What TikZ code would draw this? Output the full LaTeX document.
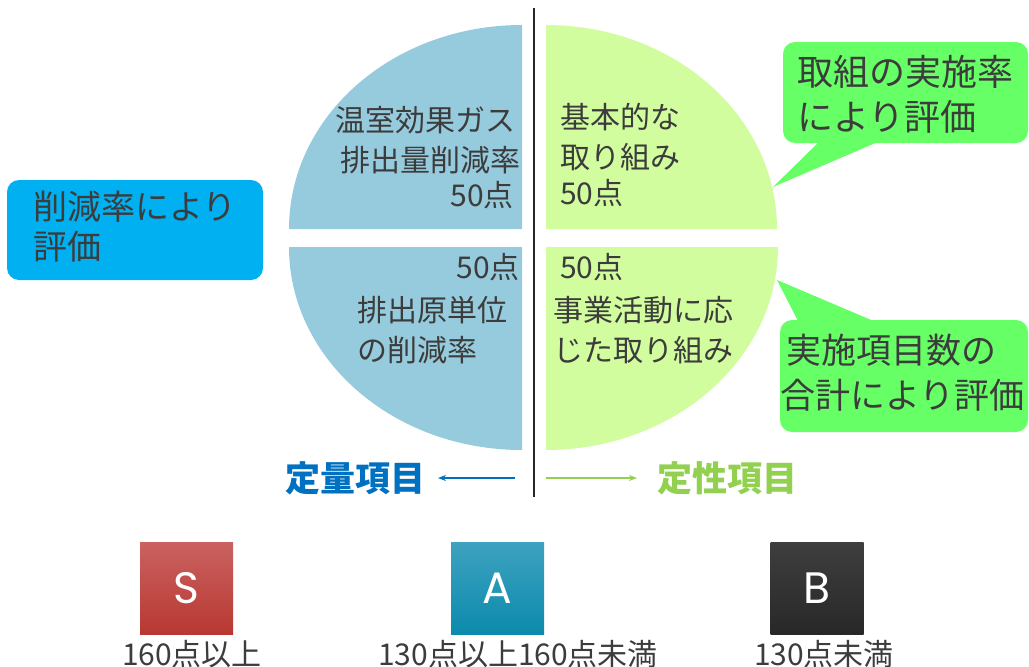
\documentclass[tikz,border=0pt]{standalone}
\usepackage{fontspec}
\newfontfamily\jp{Noto Sans CJK JP}
\newfontfamily\lat{Poppins}
\usetikzlibrary{arrows.meta}
\definecolor{pieblue}{RGB}{150,203,221}
\definecolor{piegreen}{RGB}{210,253,158}
\definecolor{boxblue}{RGB}{0,176,240}
\definecolor{callgreen}{RGB}{102,255,102}
\definecolor{txtgray}{RGB}{60,60,60}
\definecolor{qblue}{RGB}{0,112,192}
\definecolor{qgreen}{RGB}{146,208,80}
\tikzset{
  txt/.style={inner sep=0, text=txtgray, font=\jp\fontsize{30}{36}\selectfont},
  bigtxt/.style={inner sep=0, text=txtgray, font=\jp\fontsize{36}{42}\selectfont},
  boxtxt/.style={inner sep=0, text=txtgray, font=\jp\fontsize{34}{40}\selectfont},
  cattxt/.style={inner sep=0, font=\jp\bfseries\fontsize{35}{40}\selectfont},
  ranktxt/.style={inner sep=0, text=txtgray, font=\jp\fontsize{30}{36}\selectfont},
  rankbox/.style={rectangle, inner sep=0, minimum width=93, minimum height=92, text=white, font=\lat\fontsize{44}{50}\selectfont},
  thinarrow/.style={line width=1.2pt, -{Stealth[length=8pt,width=6pt]}}
}
\begin{document}
\begin{tikzpicture}[x=1pt,y=-1pt]
\useasboundingbox (0,0) rectangle (1029,667);
% pie quarters
\fill[pieblue] (522,229) -- (289,229) .. controls (289,116) and (393,25) .. (522,25) -- cycle;
\fill[pieblue] (522,247) -- (289,247) .. controls (289,359) and (393,450) .. (522,450) -- cycle;
\fill[piegreen] (546,229) -- (777,229) .. controls (777,116) and (674,25) .. (546,25) -- cycle;
\fill[piegreen] (546,247) -- (778,247) .. controls (778,359) and (674,450) .. (546,450) -- cycle;
% divider
\coordinate (vtop) at (534,8);
\coordinate (vbot) at (534,497);
\draw[line width=2pt, black!85] (vtop) -- (vbot);
% quarter texts
\node[txt, anchor=east] (tl1) at (516,120) {温室効果ガス};
\node[txt, anchor=east] (tl2) at (521,160) {排出量削減率};
\node[txt, anchor=east] (tl3) at (514,195) {50点};
\node[txt, anchor=west] (tr1) at (560,117) {基本的な};
\node[txt, anchor=west] (tr2) at (560,157) {取り組み};
\node[txt, anchor=west] (tr3) at (560,193) {50点};
\node[txt, anchor=east] (bl1) at (520,267) {50点};
\node[txt, anchor=west] (bl2) at (357,310) {排出原単位};
\node[txt, anchor=west] (bl3) at (357,350) {の削減率};
\node[txt, anchor=west] (br1) at (560,267) {50点};
\node[txt, anchor=west] (br2) at (553,310) {事業活動に応};
\node[txt, anchor=west] (br3) at (553,350) {じた取り組み};
% left box
\node[fill=boxblue, rounded corners=12, minimum width=256, minimum height=100, inner sep=0] (lbox) at (135,230) {};
\node[boxtxt, anchor=west] (lb1) at (33,207) {削減率により};
\node[boxtxt, anchor=west] (lb2) at (33,247) {評価};
% top callout
\fill[callgreen] (823,138) -- (887,138) -- (773,187) -- cycle;
\node[fill=callgreen, rounded corners=12, minimum width=245, minimum height=101, inner sep=0] (cb1) at (905.5,92.5) {};
\node[bigtxt, anchor=west] (c11) at (797,72) {取組の実施率};
\node[bigtxt, anchor=west] (c12) at (797,117) {により評価};
% bottom callout
\fill[callgreen] (800,325) -- (883,325) -- (777,280) -- cycle;
\node[fill=callgreen, rounded corners=12, minimum width=248, minimum height=112, inner sep=0] (cb2) at (904,376) {};
\node[bigtxt, anchor=west, font=\jp\fontsize{35}{41}\selectfont] (c21) at (786,350) {実施項目数の};
\node[bigtxt, anchor=west, font=\jp\fontsize{35}{41}\selectfont] (c22) at (780,395) {合計により評価};
% category labels
\node[cattxt, text=qblue, anchor=east] (teiryo) at (426,478) {定量項目};
\node[cattxt, text=qgreen, anchor=west] (teisei) at (657,478) {定性項目};
\coordinate (qa) at (515,478);
\coordinate (ga) at (546,478);
\draw[thinarrow, qblue] (qa) -- (teiryo.east) [shorten >=12pt];
\draw[thinarrow, qgreen] (ga) -- (teisei.west) [shorten >=20pt];
% ranks
\node[rankbox, top color={rgb,255:red,202;green,98;blue,96}, bottom color={rgb,255:red,184;green,56;blue,50}] (S) at (186.5,588) {S};
\node[rankbox, top color={rgb,255:red,62;green,162;blue,192}, bottom color={rgb,255:red,12;green,138;blue,172}] (A) at (497.5,588) {A};
\node[rankbox, top color={rgb,255:red,62;green,62;blue,62}, bottom color={rgb,255:red,40;green,40;blue,40}] (B) at (817,588) {B};
\node[ranktxt] (sl) at (192,654) {160点以上};
\node[ranktxt] (al) at (518,654) {130点以上160点未満};
\node[ranktxt] (bl) at (824,654) {130点未満};
\end{tikzpicture}
\end{document}
